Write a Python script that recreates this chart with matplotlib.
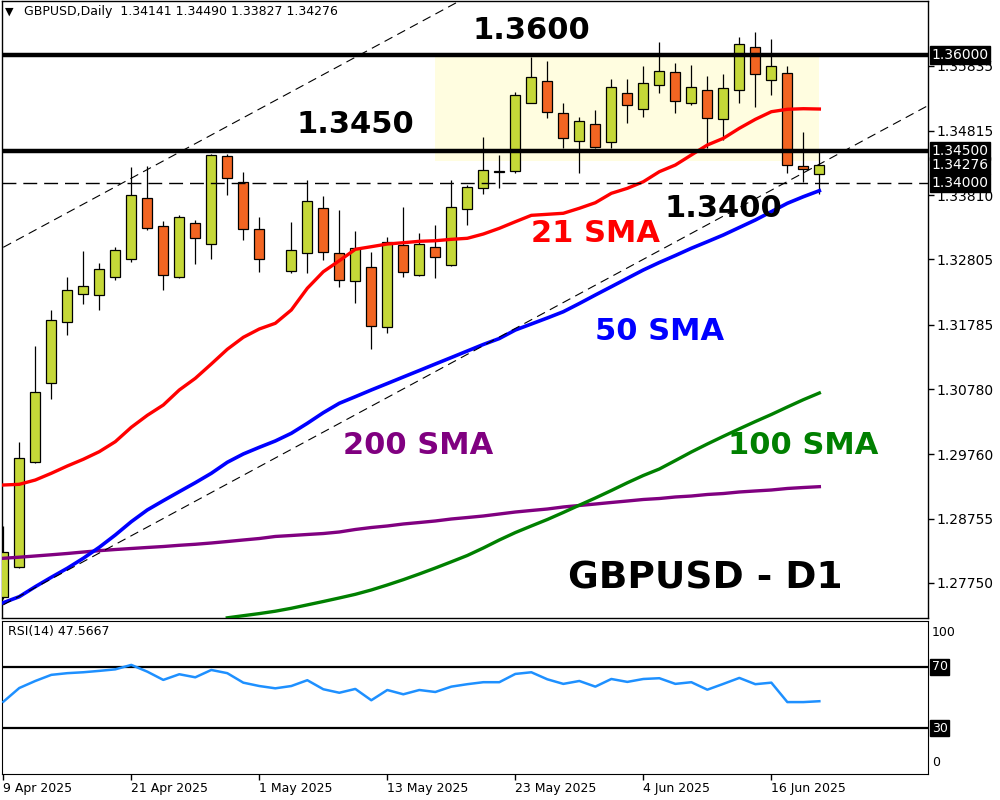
import matplotlib
matplotlib.use('Agg')
import matplotlib.pyplot as plt
import matplotlib.transforms as mtransforms
from matplotlib.patches import Rectangle
import numpy as np

nan = np.nan

# daily bars, 9 Apr 2025 .. 19 Jun 2025 (bar 17 shows no candle on the chart)
opens = [1.27531, 1.27995, 1.29636, 1.30870, 1.31823, 1.32261, 1.32245, 1.32527, 1.32808, 1.33761,
         1.33323, 1.32527, 1.33370, 1.33042, 1.34417, 1.34011, 1.33277, nan, 1.32620, 1.32902,
         1.33605, 1.32902, 1.32469, 1.32692, 1.31755, 1.33031, 1.32558, 1.32995, 1.32714, 1.33589,
         1.33917, 1.34180, 1.34183, 1.35250, 1.35589, 1.35089, 1.34656, 1.34917, 1.34636, 1.35402,
         1.35152, 1.35527, 1.35730, 1.35245, 1.35448, 1.34995, 1.35448, 1.36120, 1.35605, 1.35714,
         1.34261, 1.34141]
highs = [1.28641, 1.29958, 1.31453, 1.32016, 1.32531, 1.32937, 1.32750, 1.32995, 1.34250, 1.34266,
         1.33406, 1.33495, 1.33422, 1.34448, 1.34448, 1.34167, 1.33464, nan, 1.33386, 1.34042,
         1.33792, 1.33578, 1.33250, 1.32927, 1.33161, 1.33630, 1.33223, 1.33344, 1.34047, 1.33969,
         1.34723, 1.34437, 1.35422, 1.35973, 1.35906, 1.35255, 1.35027, 1.35141, 1.35620, 1.35620,
         1.35828, 1.36203, 1.35870, 1.35844, 1.35672, 1.35703, 1.36277, 1.36364, 1.36245, 1.35828,
         1.34792, 1.34490]
lows = [1.27500, 1.27990, 1.29620, 1.30630, 1.31630, 1.32114, 1.32020, 1.32480, 1.32770, 1.33260,
        1.32333, 1.32511, 1.32739, 1.32808, 1.33817, 1.33105, 1.32605, nan, 1.32589, 1.32598,
        1.32792, 1.32370, 1.32120, 1.31402, 1.31661, 1.32536, 1.32550, 1.32511, 1.32700, 1.33348,
        1.33833, 1.33917, 1.34161, 1.35250, 1.35020, 1.34542, 1.34161, 1.34542, 1.34542, 1.34933,
        1.35036, 1.35411, 1.35089, 1.35214, 1.34542, 1.34672, 1.35245, 1.35183, 1.35370, 1.34152,
        1.34011, 1.33827]
closes = [1.28234, 1.29698, 1.30730, 1.31855, 1.32323, 1.32386, 1.32652, 1.32948, 1.33808, 1.33292,
          1.32558, 1.33464, 1.33136, 1.34433, 1.34073, 1.33277, 1.32808, nan, 1.32948, 1.33714,
          1.32917, 1.32484, 1.32980, 1.31766, 1.33073, 1.32605, 1.33042, 1.32839, 1.33620, 1.33933,
          1.34198, 1.34175, 1.35370, 1.35652, 1.35109, 1.34698, 1.34964, 1.34567, 1.35495, 1.35214,
          1.35562, 1.35745, 1.35281, 1.35495, 1.35011, 1.35480, 1.36167, 1.35703, 1.35828, 1.34277,
          1.34219, 1.34276]

sma21 = [1.29281, 1.29292, 1.29359, 1.29464, 1.29578, 1.29683, 1.29802, 1.29958, 1.30183, 1.30370,
         1.30531, 1.30766, 1.30948, 1.31172, 1.31402, 1.31589, 1.31719, 1.31808, 1.32016, 1.32355,
         1.32614, 1.32786, 1.32964, 1.33005, 1.33047, 1.33067, 1.33089, 1.33098, 1.33120, 1.33136,
         1.33203, 1.33292, 1.33395, 1.33495, 1.33511, 1.33527, 1.33605, 1.33692, 1.33839, 1.33917,
         1.34020, 1.34177, 1.34281, 1.34438, 1.34594, 1.34698, 1.34855, 1.34995, 1.35114, 1.35152,
         1.35161, 1.35156]
sma50 = [1.27442, 1.27536, 1.27692, 1.27839, 1.27980, 1.28136, 1.28308, 1.28500, 1.28708, 1.28891,
         1.29036, 1.29177, 1.29317, 1.29464, 1.29636, 1.29766, 1.29870, 1.29969, 1.30089, 1.30245,
         1.30411, 1.30558, 1.30661, 1.30766, 1.30867, 1.30969, 1.31070, 1.31172, 1.31273, 1.31375,
         1.31477, 1.31570, 1.31703, 1.31797, 1.31891, 1.31989, 1.32117, 1.32250, 1.32380, 1.32511,
         1.32641, 1.32758, 1.32867, 1.32980, 1.33083, 1.33188, 1.33305, 1.33422, 1.33552, 1.33683,
         1.33786, 1.33880]
sma100 = [nan] * 14 + [
         1.27206, 1.27239, 1.27272, 1.27309, 1.27355, 1.27408, 1.27461, 1.27516, 1.27573, 1.27641,
         1.27719, 1.27802, 1.27891, 1.27984, 1.28081, 1.28180, 1.28297, 1.28422, 1.28538, 1.28641,
         1.28742, 1.28852, 1.28966, 1.29078, 1.29195, 1.29316, 1.29430, 1.29531, 1.29663, 1.29797,
         1.29922, 1.30042, 1.30159, 1.30273, 1.30383, 1.30500, 1.30614, 1.30719]
sma200 = [1.28136, 1.28153, 1.28172, 1.28191, 1.28211, 1.28234, 1.28255, 1.28273, 1.28289, 1.28305,
          1.28320, 1.28339, 1.28355, 1.28375, 1.28398, 1.28422, 1.28445, 1.28477, 1.28492, 1.28508,
          1.28523, 1.28547, 1.28586, 1.28617, 1.28641, 1.28672, 1.28695, 1.28719, 1.28750, 1.28773,
          1.28797, 1.28828, 1.28859, 1.28883, 1.28906, 1.28938, 1.28961, 1.28984, 1.29008, 1.29031,
          1.29055, 1.29070, 1.29094, 1.29109, 1.29133, 1.29148, 1.29172, 1.29188, 1.29203, 1.29227,
          1.29242, 1.29255]

rsi = [47.2, 56.2, 60.8, 64.8, 65.9, 66.5, 67.4, 68.4, 71.3, 66.9,
       61.5, 65.2, 63.2, 68.0, 65.9, 59.7, 57.5, 56.0, 57.5, 61.3,
       55.4, 53.1, 55.6, 48.2, 54.9, 52.1, 54.9, 53.6, 57.1, 58.7,
       60.0, 60.0, 65.4, 66.5, 61.9, 58.9, 60.8, 57.1, 62.1, 60.2,
       62.1, 62.6, 58.9, 60.0, 55.1, 58.9, 62.8, 58.7, 59.7, 47.0,
       47.0, 47.5667]

tick_bars = [0, 8, 16, 24, 32, 40, 48]
tick_dates = ['9 Apr 2025', '21 Apr 2025', '1 May 2025', '13 May 2025',
              '23 May 2025', '4 Jun 2025', '16 Jun 2025']
price_ticks = [1.27750, 1.28755, 1.29760, 1.30780, 1.31785, 1.32805, 1.33810, 1.34815, 1.35835]

levels_solid = [1.3600, 1.3450]
level_dashed = 1.3400
last_price = 1.34276

# channel trendlines: (bar, price) at both ends
trend_lower = ([0, 57.8], [1.27408, 1.35211])
trend_upper = ([0, 57.8], [1.32995, 1.40798])

# range box: bars 27..51, price band
box_bars = [26.98, 51.0]
box_prices = [1.34348, 1.35973]

bull = '#c5d838'
bear = '#f26522'
xlim = (-0.08, 57.79)

fig = plt.figure(figsize=(10, 8), dpi=100)
ax = fig.add_axes([0.002, 0.2275, 0.926, 0.77125])
rsi_ax = fig.add_axes([0.002, 0.0325, 0.926, 0.19125])

x = np.arange(len(opens))
o = np.array(opens); h = np.array(highs); l = np.array(lows); c = np.array(closes)
ok = ~np.isnan(o)

ax.add_patch(Rectangle((box_bars[0], box_prices[0]), box_bars[1] - box_bars[0],
                       box_prices[1] - box_prices[0], facecolor='#fffde0', edgecolor='none', zorder=1))

ax.vlines(x[ok], l[ok], h[ok], color='black', lw=0.9, zorder=3)
body_bottom = np.minimum(o[ok], c[ok])
body_h = np.maximum(np.abs(c[ok] - o[ok]), 0.00001)
body_col = np.where(c[ok] >= o[ok], bull, bear)
ax.bar(x[ok], body_h, bottom=body_bottom, width=0.62, color=body_col,
       edgecolor='black', linewidth=0.9, zorder=4)

ax.plot(x, sma200, color='#800080', lw=2.4, zorder=5)
ax.plot(x, sma100, color='#008000', lw=2.4, zorder=5)
ax.plot(x, sma50, color='#0000ff', lw=2.6, zorder=5)
ax.plot(x, sma21, color='#ff0000', lw=2.4, zorder=5)

ax.plot(*trend_lower, color='black', lw=0.8, linestyle=(0, (8, 5)), zorder=5)
ax.plot(*trend_upper, color='black', lw=0.8, linestyle=(0, (8, 5)), zorder=5)

for lv in levels_solid:
    ax.axhline(lv, color='black', lw=3.2, zorder=6)
ax.axhline(level_dashed, color='black', lw=1.0, linestyle=(0, (10, 5)), zorder=6)

bold = dict(fontweight='bold', ha='center', va='center', zorder=7, fontsize=22)
ax.text(33.0, 1.3639, '1.3600', color='black', **bold)
ax.text(22.0, 1.34922, '1.3450', color='black', **bold)
ax.text(45.0, 1.33609, '1.3400', color='black', **bold)
ax.text(37.0, 1.33214, '21 SMA', color='#ff0000', **bold)
ax.text(41.0, 1.31672, '50 SMA', color='#0000ff', **bold)
ax.text(25.9, 1.29906, '200 SMA', color='#800080', **bold)
ax.text(50.0, 1.29891, '100 SMA', color='#008000', **bold)
ax.text(43.9, 1.27813, 'GBPUSD - D1', color='black', fontweight='bold',
        ha='center', va='center', fontsize=27, zorder=7)

ax.set_xlim(*xlim)
ax.set_ylim(1.27203, 1.36844)
ax.yaxis.tick_right()
ax.set_yticks(price_ticks)
ax.set_yticklabels([f'{v:.5f}' for v in price_ticks], fontsize=10)
ax.tick_params(axis='y', length=4, width=1, pad=2)
ax.tick_params(axis='x', bottom=False, labelbottom=False)
for s in ax.spines.values():
    s.set_linewidth(1.0)

trans = mtransforms.blended_transform_factory(ax.transAxes, ax.transData)
for val in [1.3600, 1.3450, last_price, 1.3400]:
    ax.text(1.004, val, f'{val:.5f}', transform=trans, ha='left', va='center',
            fontsize=10, color='white', zorder=10, clip_on=False,
            bbox=dict(boxstyle='square,pad=0.12', fc='black', ec='black'))

fig.text(0.005, 0.985, '▼', fontsize=8, va='center', ha='left')
fig.text(0.024, 0.985, 'GBPUSD,Daily  1.34141 1.34490 1.33827 1.34276',
         fontsize=9, va='center', ha='left')

# RSI panel
rsi_ax.plot(x, rsi, color='#1e90ff', lw=1.8, zorder=3)
rsi_ax.axhline(70, color='black', lw=1.6)
rsi_ax.axhline(30, color='black', lw=1.6)
rsi_ax.set_xlim(*xlim)
rsi_ax.set_ylim(0, 100)
rsi_ax.set_yticks([])
rsi_ax.set_xticks(tick_bars)
rsi_ax.set_xticklabels(tick_dates, fontsize=9, ha='left')
rsi_ax.tick_params(axis='x', length=4, width=1, pad=2)
rtrans = mtransforms.blended_transform_factory(rsi_ax.transAxes, rsi_ax.transData)
rsi_ax.text(1.004, 92.8, '100', transform=rtrans, ha='left', va='center', fontsize=9, clip_on=False)
rsi_ax.text(1.004, 7.2, '0', transform=rtrans, ha='left', va='center', fontsize=9, clip_on=False)
for lv in [70, 30]:
    rsi_ax.text(1.004, lv, str(lv), transform=rtrans, ha='left', va='center', fontsize=9,
                color='white', clip_on=False,
                bbox=dict(boxstyle='square,pad=0.12', fc='black', ec='black'))
fig.text(0.008, 1 - 632 / 800, 'RSI(14) 47.5667', fontsize=9, va='center', ha='left')

fig.savefig('out.png', dpi=100, facecolor='white')
